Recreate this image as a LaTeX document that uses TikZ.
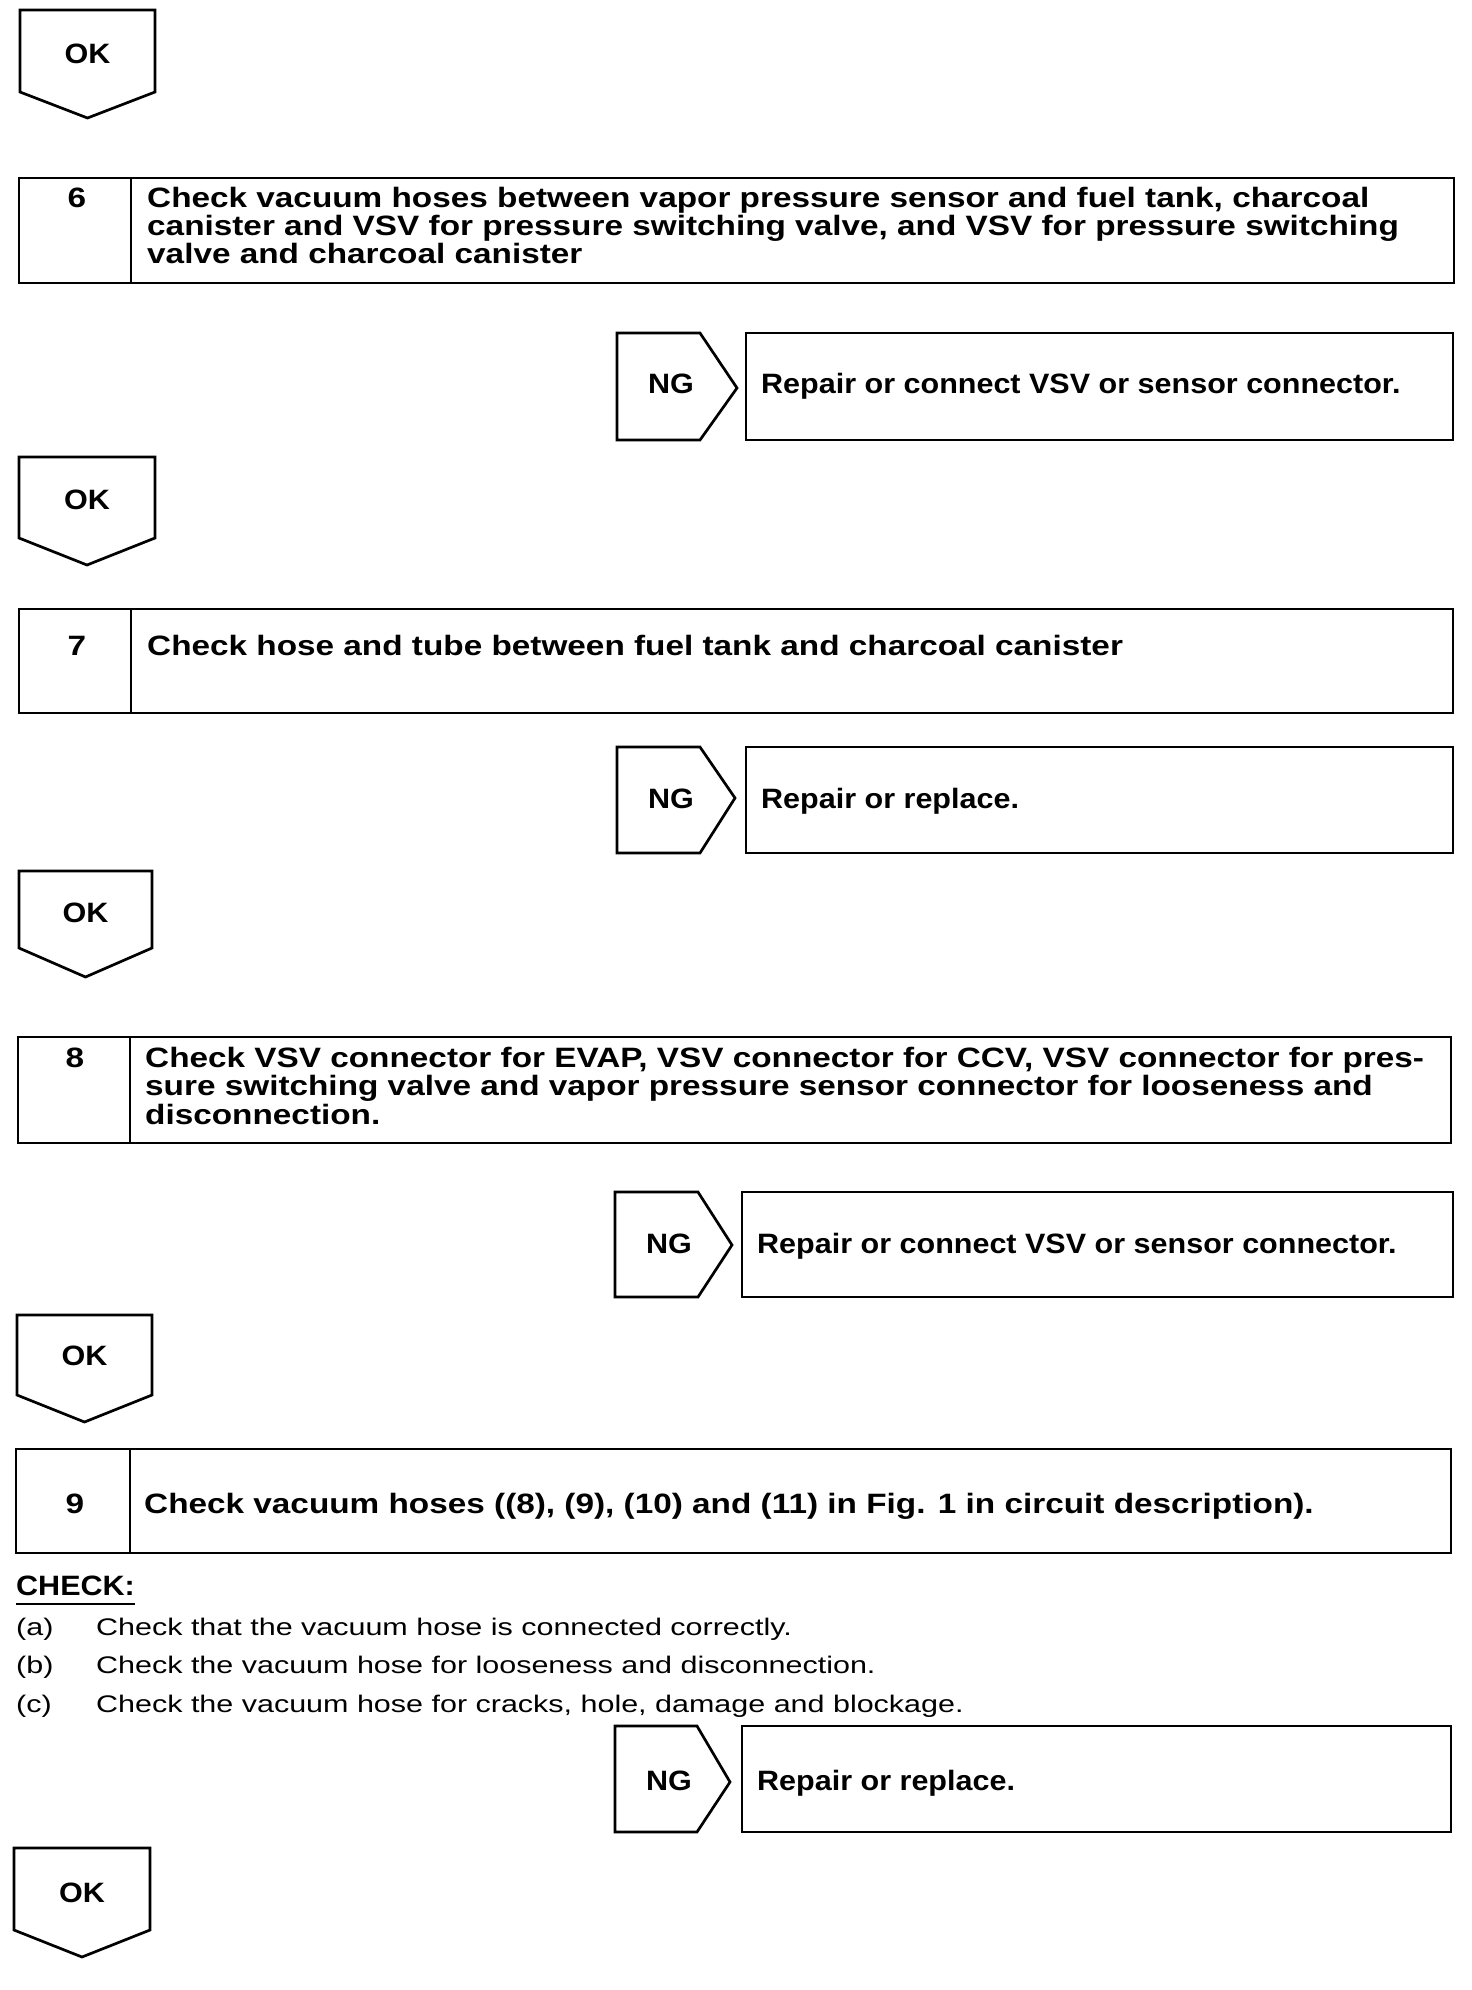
\documentclass[tikz,border=0pt]{standalone}
\usepackage{fontspec}
\setmainfont{Liberation Sans}[FakeStretch=1.19]
\newfontfamily\labelfont{Liberation Sans}[FakeStretch=1.09]
\newfontfamily\itemfont{Liberation Sans}[FakeStretch=1.27]
\usetikzlibrary{positioning}

\begin{document}
\begin{tikzpicture}[x=1pt,y=-1pt,
  frame/.style={line width=2.7pt,line join=miter},
  big/.style={font=\fontsize{28}{28}\selectfont\bfseries,inner sep=0pt},
  tag/.style={font=\fontsize{28}{28}\labelfont\bfseries,inner sep=0pt},
  small/.style={font=\fontsize{24}{24}\itemfont,inner sep=0pt}]
\useasboundingbox (0,0) rectangle (1472,1990);
% OK 1
\draw[frame] (20,10) -- (155,10) -- (155,92) -- (87.5,118) -- (20,92) -- cycle;
\node[tag,anchor=base] (ok1) at (87.5,63) {OK};
% step 6
\draw[frame] (19,178) rectangle (1454,283);
\draw[frame] (131,178) -- (131,283);
\node[big,anchor=base] (n6) at (77,207) {6};
\node[big,anchor=base west] (t6a) at (147,207) {Check vacuum hoses between vapor pressure sensor and fuel tank, charcoal};
\node[big,anchor=base west] (t6b) at (147,235) {canister and VSV for pressure switching valve, and VSV for pressure switching};
\node[big,anchor=base west] (t6c) at (147,263) {valve and charcoal canister};
\draw[frame] (617,333) -- (700,333) -- (737,388) -- (700,440) -- (617,440) -- cycle;
\node[tag,anchor=base] (ng6) at (671,393) {NG};
\draw[frame] (746,333) rectangle (1453,440);
\node[tag,anchor=base west] (r6) at (761,393) {Repair or connect VSV or sensor connector.};
% OK 2
\draw[frame] (19,457) -- (155,457) -- (155,538) -- (87,565) -- (19,538) -- cycle;
\node[tag,anchor=base] (ok2) at (87,509) {OK};
% step 7
\draw[frame] (19,609) rectangle (1453,713);
\draw[frame] (131,609) -- (131,713);
\node[big,anchor=base] (n7) at (77,655) {7};
\node[big,anchor=base west] (t7) at (147,655) {Check hose and tube between fuel tank and charcoal canister};
\draw[frame] (617,747) -- (700,747) -- (735,798) -- (700,853) -- (617,853) -- cycle;
\node[tag,anchor=base] (ng7) at (671,808) {NG};
\draw[frame] (746,747) rectangle (1453,853);
\node[tag,anchor=base west] (r7) at (761,808) {Repair or replace.};
% OK 3
\draw[frame] (19,871) -- (152,871) -- (152,948) -- (85.5,977) -- (19,948) -- cycle;
\node[tag,anchor=base] (ok3) at (85.5,922) {OK};
% step 8
\draw[frame] (18,1037) rectangle (1451,1143);
\draw[frame] (130,1037) -- (130,1143);
\node[big,anchor=base] (n8) at (75,1067) {8};
\node[big,anchor=base west] (t8a) at (145,1067) {Check VSV connector for EVAP, VSV connector for CCV, VSV connector for pres-};
\node[big,anchor=base west] (t8b) at (145,1095) {sure switching valve and vapor pressure sensor connector for looseness and};
\node[big,anchor=base west] (t8c) at (145,1124) {disconnection.};
\draw[frame] (615,1192) -- (698,1192) -- (732,1245) -- (698,1297) -- (615,1297) -- cycle;
\node[tag,anchor=base] (ng8) at (669,1253) {NG};
\draw[frame] (742,1192) rectangle (1453,1297);
\node[tag,anchor=base west] (r8) at (757,1253) {Repair or connect VSV or sensor connector.};
% OK 4
\draw[frame] (17,1315) -- (152,1315) -- (152,1395) -- (84.5,1422) -- (17,1395) -- cycle;
\node[tag,anchor=base] (ok4) at (84.5,1365) {OK};
% step 9
\draw[frame] (16,1449) rectangle (1451,1553);
\draw[frame] (130,1449) -- (130,1553);
\node[big,anchor=base] (n9) at (75,1513) {9};
\node[big,anchor=base west] (t9) at (144,1513) {Check vacuum hoses ((8), (9), (10) and (11) in Fig. 1 in circuit description).};
\node[tag,anchor=base west] (chk) at (16,1595) {CHECK:};
\draw[line width=2pt] ([yshift=-9pt]chk.south west) -- ([yshift=-9pt]chk.south east);
\node[small,anchor=base west] (la) at (16,1635) {(a)};
\node[small,anchor=base west] (ia) at (96,1635) {Check that the vacuum hose is connected correctly.};
\node[small,anchor=base west] (lb) at (16,1673) {(b)};
\node[small,anchor=base west] (ib) at (96,1673) {Check the vacuum hose for looseness and disconnection.};
\node[small,anchor=base west] (lc) at (16,1712) {(c)};
\node[small,anchor=base west] (ic) at (96,1712) {Check the vacuum hose for cracks, hole, damage and blockage.};
\draw[frame] (615,1726) -- (697,1726) -- (730,1782) -- (697,1832) -- (615,1832) -- cycle;
\node[tag,anchor=base] (ng9) at (669,1790) {NG};
\draw[frame] (742,1726) rectangle (1451,1832);
\node[tag,anchor=base west] (r9) at (757,1790) {Repair or replace.};
% OK 5
\draw[frame] (14,1848) -- (150,1848) -- (150,1930) -- (82,1957) -- (14,1930) -- cycle;
\node[tag,anchor=base] (ok5) at (82,1902) {OK};
\end{tikzpicture}
\end{document}
